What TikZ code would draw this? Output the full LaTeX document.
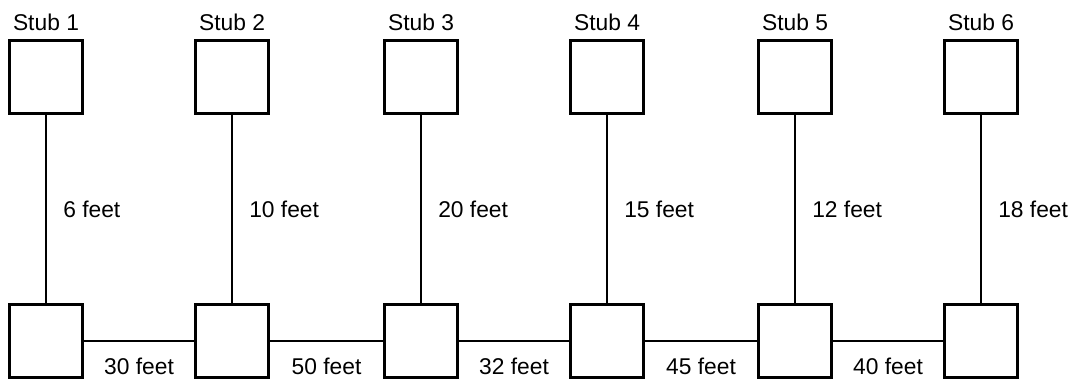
\documentclass[tikz,border=0pt]{standalone}
\usepackage{fontspec}
\setmainfont{Liberation Sans}
\begin{document}
\begin{tikzpicture}[x=1pt,y=-1pt,
  stubbox/.style={draw,line width=3pt,minimum width=73pt,minimum height=73pt,inner sep=0pt},
  conn/.style={line width=2.6pt},
  lbl/.style={font=\fontsize{22.8}{25}\selectfont,inner sep=0pt}]
\useasboundingbox (0,0) rectangle (1076,381);
\foreach \i/\x in {1/46,2/232,3/421,4/607,5/795,6/981}{
  \node[stubbox] (t\i) at (\x,77) {};
  \node[stubbox] (b\i) at (\x,341) {};
  \node[lbl] (s\i) at (\x,22) {Stub \i};
}
\foreach \i/\d in {1/6,2/10,3/20,4/15,5/12,6/18}{
  \draw[conn] (t\i) -- (b\i) node[lbl,pos=0.5,anchor=west,xshift=16pt] {\d\ feet};
}
\foreach \i/\j/\d in {1/2/30,2/3/50,3/4/32,4/5/45,5/6/40}{
  \draw[conn] (b\i) -- (b\j) node[lbl,pos=0.5,yshift=-25pt] {\d\ feet};
}
\end{tikzpicture}
\end{document}
